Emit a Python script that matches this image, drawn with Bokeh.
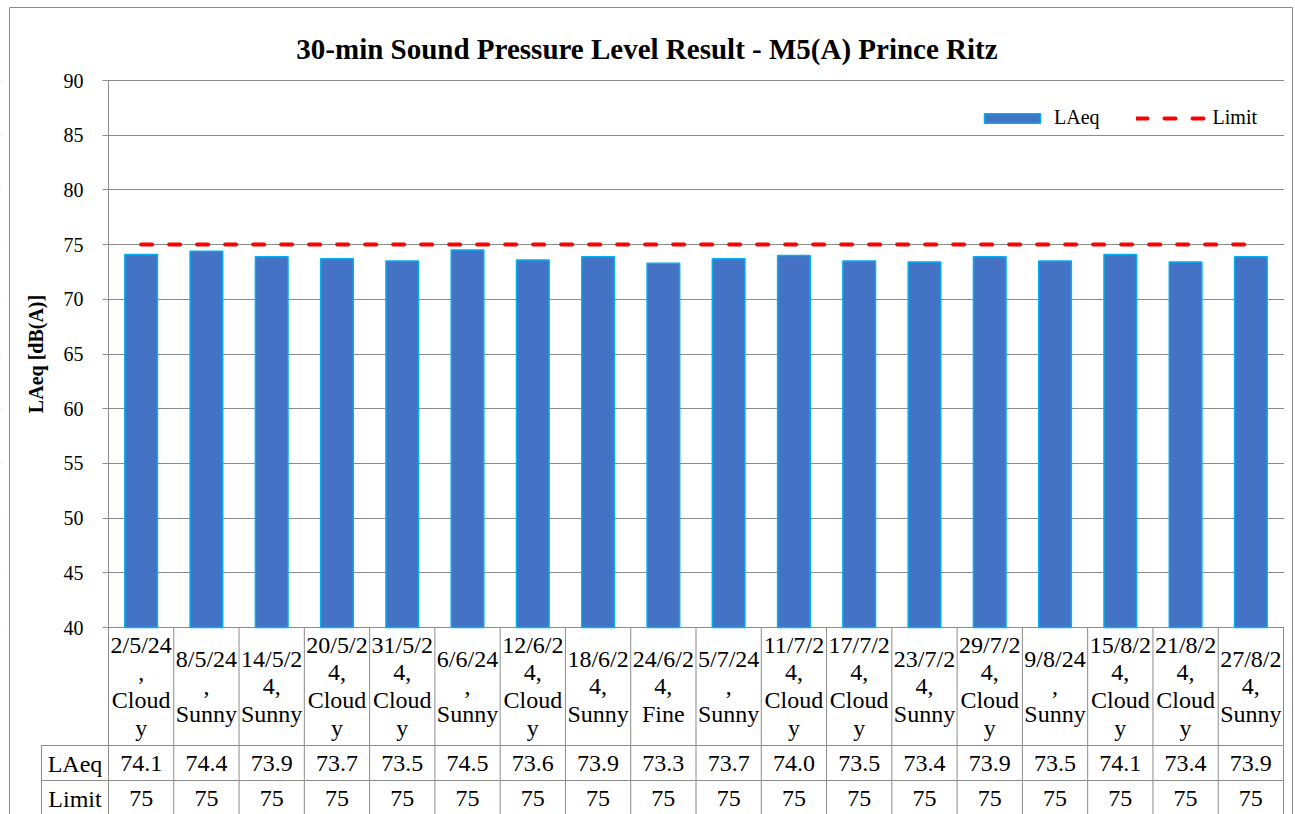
from bokeh.plotting import figure
from bokeh.models import (Range1d, FixedTicker, Legend, LegendItem,
                          ColumnDataSource, Label)
from bokeh.core.properties import value
from bokeh.embed import file_html
from bokeh.resources import INLINE

# ---------------- data ----------------
dates = ["2/5/24", "8/5/24", "14/5/24", "20/5/24", "31/5/24", "6/6/24",
         "12/6/24", "18/6/24", "24/6/24", "5/7/24", "11/7/24", "17/7/24",
         "23/7/24", "29/7/24", "9/8/24", "15/8/24", "21/8/24", "27/8/24"]
weather = ["Cloudy", "Sunny", "Sunny", "Cloudy", "Cloudy", "Sunny",
           "Cloudy", "Sunny", "Fine", "Sunny", "Cloudy", "Cloudy",
           "Sunny", "Cloudy", "Sunny", "Cloudy", "Cloudy", "Sunny"]
# category labels as wrapped in the chart's data table
cat_labels = ["2/5/24\n,\nCloud\ny", "8/5/24\n,\nSunny", "14/5/2\n4,\nSunny",
              "20/5/2\n4,\nCloud\ny", "31/5/2\n4,\nCloud\ny", "6/6/24\n,\nSunny",
              "12/6/2\n4,\nCloud\ny", "18/6/2\n4,\nSunny", "24/6/2\n4,\nFine",
              "5/7/24\n,\nSunny", "11/7/2\n4,\nCloud\ny", "17/7/2\n4,\nCloud\ny",
              "23/7/2\n4,\nSunny", "29/7/2\n4,\nCloud\ny", "9/8/24\n,\nSunny",
              "15/8/2\n4,\nCloud\ny", "21/8/2\n4,\nCloud\ny", "27/8/2\n4,\nSunny"]
laeq = [74.1, 74.4, 73.9, 73.7, 73.5, 74.5, 73.6, 73.9, 73.3,
        73.7, 74.0, 73.5, 73.4, 73.9, 73.5, 74.1, 73.4, 73.9]
limit = [75] * 18
y_ticks = [40, 45, 50, 55, 60, 65, 70, 75, 80, 85, 90]
series_names = ["LAeq", "Limit"]
title_text = "30-min Sound Pressure Level Result - M5(A) Prince Ritz"
y_label = "LAeq [dB(A)]"

cats = [f"{d}, {w}" for d, w in zip(dates, weather)]
n = len(cats)

# ---------------- layout (page pixels) ----------------
W, H = 1295, 814
PL, PR, PT, PB = 108, 1283, 80, 627      # plot area
Y_TOP, Y_BASE = 90, 40
unit = (PR - PL) / n                      # px per category
ppu = (PB - PT) / (Y_TOP - Y_BASE)        # px per dB

SERIF = "Liberation Serif"
GRAY = "#8c8c8c"

p = figure(width=W, height=H, title=None,
           x_range=Range1d(-PL / unit, (W - PL) / unit),
           y_range=Range1d(Y_TOP - (H - PT) / ppu, Y_TOP + PT / ppu),
           output_backend="svg", toolbar_location=None, x_axis_location=None,
           min_border_left=0, min_border_right=0, min_border_top=0,
           min_border_bottom=0)
p.extra_x_ranges = {"px": Range1d(0, W)}
p.extra_y_ranges = {"px": Range1d(H, 0)}
p.outline_line_color = None
p.background_fill_color = "white"
p.border_fill_color = "white"
PX = dict(x_range_name="px", y_range_name="px")

# y axis (placed at the left edge of the category area)
yax = p.yaxis[0]
yax.fixed_location = 0
yax.ticker = FixedTicker(ticks=y_ticks)
yax.bounds = (Y_BASE, Y_TOP)
yax.axis_line_color = GRAY
yax.major_tick_line_color = GRAY
yax.major_tick_out = 6
yax.major_tick_in = 0
yax.minor_tick_line_color = None
yax.major_label_text_font = SERIF
yax.major_label_text_font_size = "20px"
yax.major_label_text_color = "black"
yax.major_label_standoff = 19
yax.axis_label = y_label
yax.axis_label_text_font = SERIF
yax.axis_label_text_font_size = "20px"
yax.axis_label_text_font_style = "bold"
yax.axis_label_text_color = "black"
yax.axis_label_standoff = 14

p.ygrid.ticker = FixedTicker(ticks=y_ticks)
p.ygrid.grid_line_color = GRAY
p.xgrid.visible = False

# keep grid lines inside the plot area
p.quad(left=[0, PR + 0.5], right=[PL - 0.5, W], bottom=[PB + 4, PB + 4],
       top=[PT - 4, PT - 4], fill_color="white", line_color=None, **PX)

xpos = [i + 0.5 for i in range(n)]
src = ColumnDataSource(dict(x=xpos, cat=cats, laeq=laeq, limit=limit))
bars = p.vbar(x="x", top="laeq", bottom=Y_BASE, width=0.5, source=src,
              fill_color="#4472C4", line_color="#00B0F0", line_width=1.5)
lim = p.line(x="x", y="limit", source=src, line_color="#FF0000",
             line_width=4, line_dash="11 17", line_cap="round")

legend = Legend(items=[LegendItem(label=series_names[0], renderers=[bars]),
                       LegendItem(label=series_names[1], renderers=[lim])],
                orientation="horizontal", location=(973, H - 133),
                glyph_width=70, glyph_height=12, label_standoff=7, spacing=36,
                label_text_font=SERIF, label_text_font_size="20px",
                label_text_color="black", border_line_alpha=0,
                background_fill_alpha=0, margin=0, padding=4)
p.add_layout(legend)

# title
p.add_layout(Label(x=646.5, y=48, text=title_text, text_font=SERIF,
                   text_font_size="29px", text_font_style="bold",
                   text_align="center", text_baseline="middle",
                   text_color="black", **PX))

# ---------------- data table below the plot ----------------
HDR_L = 41
ROW0_B, ROW1_B = 745, 780
LINE_GAP = 27.5
cat_center = (PB + ROW0_B) / 2

tx, ty, tt = [], [], []
for xc, lab in zip(xpos, cat_labels):
    lines = lab.split("\n")
    k = len(lines)
    for j, t in enumerate(lines):
        tx.append(xc)
        ty.append(cat_center + (j - (k - 1) / 2) * LINE_GAP)
        tt.append(t)
txt_kw = dict(text_font=value(SERIF), text_font_size="24px", text_color="black",
              text_align="center", text_baseline="middle")
p.text(x=tx, y=ty, text=tt, y_range_name="px", **txt_kw)
p.text(x=xpos, y=[763] * n, text=[f"{v:.1f}" for v in laeq],
       y_range_name="px", **txt_kw)
p.text(x=xpos, y=[798] * n, text=[f"{v:g}" for v in limit],
       y_range_name="px", **txt_kw)
p.text(x=[(HDR_L + PL) / 2] * 2, y=[763, 798], text=series_names, **PX, **txt_kw)

# table grid lines
vx = list(range(0, n + 1))
p.segment(x0=vx, y0=[PB] * (n + 1), x1=vx, y1=[H + 5] * (n + 1),
          y_range_name="px", line_color=GRAY, line_width=1)
p.segment(x0=[HDR_L, HDR_L, HDR_L], y0=[ROW0_B, ROW1_B, ROW0_B],
          x1=[PR, PR, HDR_L], y1=[ROW0_B, ROW1_B, H + 5],
          line_color=GRAY, line_width=1, **PX)

# outer chart-area border
p.segment(x0=[9, 9, 1292], y0=[7, 7, 7], x1=[1292, 9, 1292], y1=[7, H + 5, H + 5],
          line_color=GRAY, line_width=1, **PX)

open("out.html", "w").write(file_html(p, INLINE))
